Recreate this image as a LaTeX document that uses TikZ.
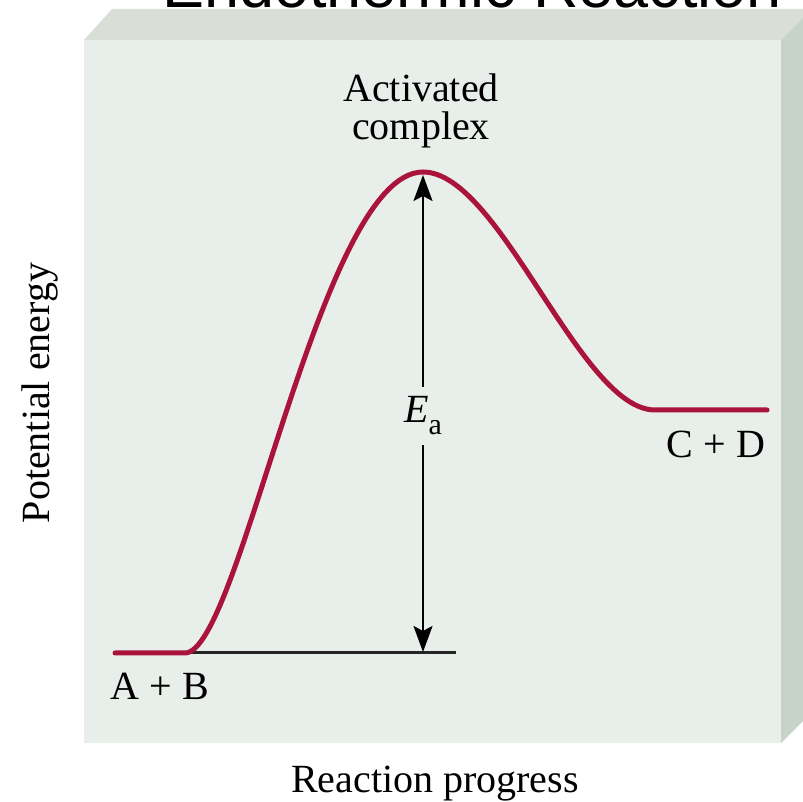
\documentclass[tikz,border=0pt]{standalone}
\usepackage{fontspec}
\setmainfont{Liberation Serif}
\newfontfamily\titlefont{Liberation Sans}
\usetikzlibrary{arrows.meta}
\definecolor{frontface}{RGB}{232,238,233}
\definecolor{topface}{RGB}{217,223,215}
\definecolor{sideface}{RGB}{199,210,201}
\definecolor{curvered}{RGB}{170,20,60}
\tikzset{
  lbl/.style={font=\fontsize{40}{38}\selectfont, inner sep=0pt},
  eaarrow/.style={line width=2.2pt, -{Stealth[length=26pt,width=19pt,inset=5pt]}},
  energycurve/.style={curvered, line width=5pt, line cap=round, line join=round},
  baseline/.style={black!85, line width=3pt}
}
\begin{document}
\begin{tikzpicture}[x=1pt,y=1pt]
\useasboundingbox (0,0) rectangle (803,802);
\clip (0,0) rectangle (803,802);
% box
\fill[topface] (84,762) -- (112,793) -- (812,793) -- (781,762) -- cycle;
\fill[sideface] (781,762) -- (812,793) -- (812,90) -- (781,59) -- cycle;
\fill[frontface] (84,59) rectangle (781,762);
% title (cut off at top)
\node[anchor=base west, inner sep=0pt, font=\titlefont\fontsize{63}{70}\selectfont] (title) at (162,794) {Endothermic Reaction};
% coordinates
\coordinate (start) at (115,149);
\coordinate (rise) at (185,149);
\coordinate (peak) at (423,630);
\coordinate (fall) at (655,392);
\coordinate (end) at (767,392);
\coordinate (basestart) at (190,149);
\coordinate (baseend) at (456,149);
\coordinate (peaktip) at (423,627);
\coordinate (basetip) at (423,150);
% baseline
\draw[baseline] (basestart) -- (baseend);
% curve
\draw[energycurve] (start) -- (rise) .. controls (240,149) and (320,630) .. (peak)
  .. controls (500,630) and (580,392) .. (fall) -- (end);
% Ea label and arrows
\node[lbl, minimum height=58pt] (ea) at (423,386) {\textit{E}\raisebox{-12pt}{\fontsize{30}{30}\selectfont a}};
\draw[eaarrow] (ea.north) -- (peaktip);
\draw[eaarrow] (ea.south) -- (basetip);
% labels
\node[lbl, align=center, anchor=base] (complex) at (421,662) {Activated\\complex};
\node[lbl, anchor=base] (ab) at (160,102) {A + B};
\node[lbl, anchor=base] (cd) at (716,344) {C + D};
\node[lbl, anchor=base] (xlabel) at (435,9) {Reaction progress};
\node[lbl, anchor=base, rotate=90] (ylabel) at (49,409) {Potential energy};
\end{tikzpicture}
\end{document}
